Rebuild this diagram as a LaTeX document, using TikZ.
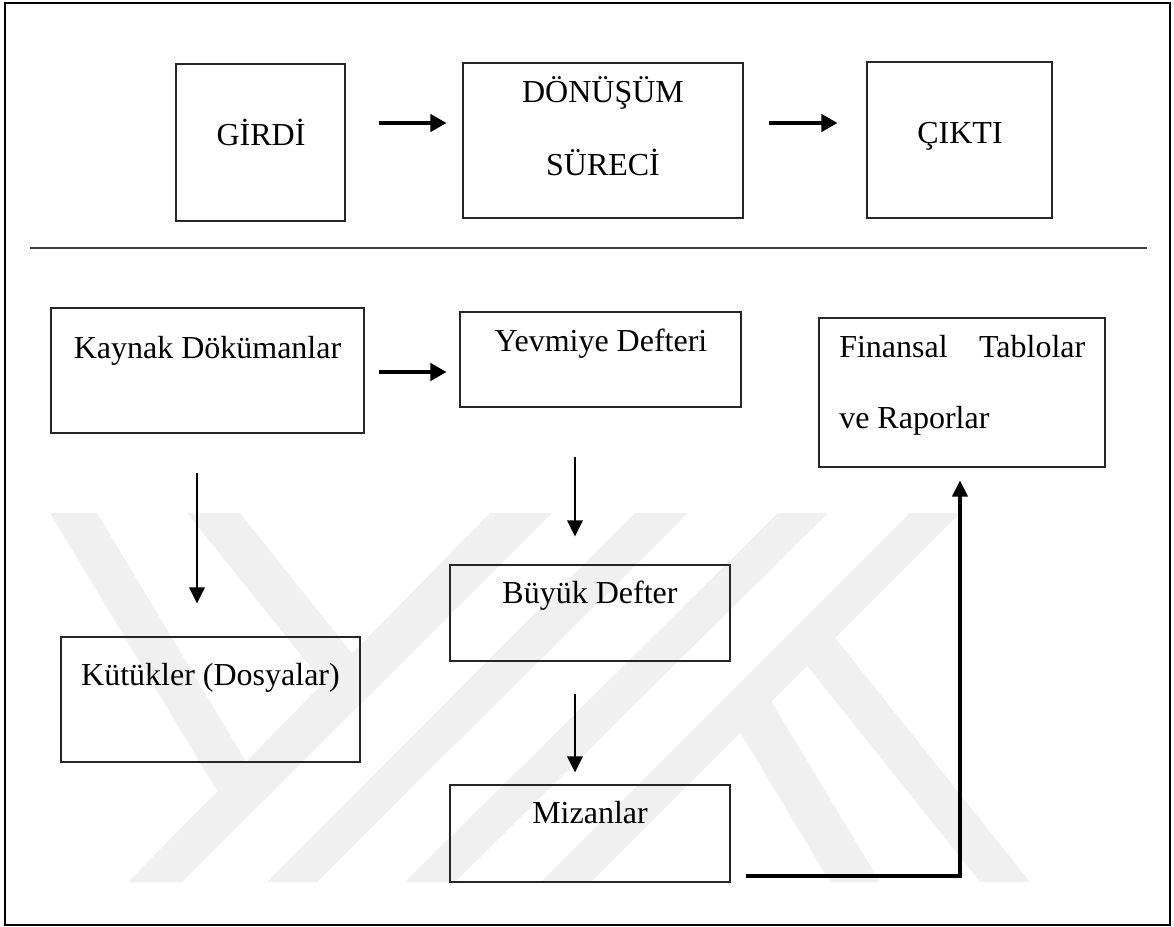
\documentclass[tikz,border=0pt]{standalone}
\usepackage{fontspec}
\setmainfont{Liberation Serif}
\usetikzlibrary{arrows.meta,fit}

\begin{document}
\begin{tikzpicture}[x=0.75pt,y=-0.75pt,
  box/.style={draw=black!85,line width=0.8pt,inner sep=0pt},
  frame/.style={draw=black,line width=2.2pt,inner sep=0pt},
  lbl/.style={anchor=base,inner sep=0pt,font=\fontsize{24}{29}\selectfont},
  lblw/.style={anchor=base west,inner sep=0pt,font=\fontsize{24}{29}\selectfont},
  flow/.style={line width=2.3pt,-{Triangle[length=12pt,width=13pt]}},
  drop/.style={line width=1.5pt,-{Triangle[length=12pt,width=11.5pt]}},
  link/.style={line width=2.3pt,-{Triangle[length=12pt,width=11.5pt]}},
  band/.style={fill=black!6,draw=none}
]
\useasboundingbox (0,0) rectangle (1174,927);

% background emblem made of light stripes
\begin{scope}
  \clip (6,513) rectangle (1170,882);
  % rising stripes
  \fill[band] (128,882) -- (182,882) -- (552,513) -- (490,513) -- cycle;
  \fill[band] (267,882) -- (317,882) -- (688,513) -- (635,513) -- cycle;
  \fill[band] (405,882) -- (455,882) -- (828,513) -- (778,513) -- cycle;
  \fill[band] (541,882) -- (591,882) -- (960,513) -- (910,513) -- cycle;
  % falling stripes joining the first rising stripe
  \fill[band] (187,513) -- (240,513) -- (366,671) -- (337,700) -- cycle;
  \fill[band] (50,513) -- (97,513) -- (257,780) -- (228,809) -- cycle;
  % falling stripes leaving the last rising stripe
  \fill[band] (830,882) -- (880,882) -- (762,686) -- (731,717) -- cycle;
  \fill[band] (980,882) -- (1030,882) -- (824,624) -- (796,652) -- cycle;
\end{scope}

% outer frame and separator
\node[frame, fit={(5,3) (1170,925)}] (frame) {};
\draw[black!75,line width=0.8pt] (30,248) -- (1147,248);

% upper row: input, transformation, output
\node[box, fit={(176,64) (345,221)}] (girdi) {};
\node[box, fit={(463,63) (743,218)}] (donusum) {};
\node[box, fit={(867,62) (1052,218)}] (cikti) {};

\node[lbl] (girdi-t) at (261,146) {GİRDİ};
\node[lbl] (donusum-t1) at (603,103) {DÖNÜŞÜM};
\node[lbl] (donusum-t2) at (603,176) {SÜRECİ};
\node[lbl] (cikti-t) at (960,144) {ÇIKTI};

\draw[flow] ([shift={(33,-19.5)}]girdi.east) -- ([shift={(-16,-17.5)}]donusum.west);
\draw[flow] ([shift={(25,-17.5)}]donusum.east) -- ([shift={(-29,-17)}]cikti.west);

% lower part: accounting cycle
\node[box, fit={(51,308) (364,433)}] (kaynak) {};
\node[box, fit={(460,312) (741,407)}] (yevmiye) {};
\node[box, fit={(819,318) (1105,467)}] (finansal) {};
\node[box, fit={(450,565) (730,661)}] (buyuk) {};
\node[box, fit={(61,637) (360,762)}] (kutuk) {};
\node[box, fit={(450,785) (730,882)}] (mizan) {};

\node[lbl] (kaynak-t) at (207.5,358) {Kaynak Dökümanlar};
\node[lbl] (yevmiye-t) at (601,351) {Yevmiye Defteri};
\node[lblw] (finansal-t1) at (839,357) {\makebox[184.5pt][s]{Finansal\hfill Tablolar}};
\node[lblw] (finansal-t2) at (839,428) {ve Raporlar};
\node[lbl] (buyuk-t) at (590,603) {Büyük Defter};
\node[lbl] (kutuk-t) at (210.5,685) {Kütükler (Dosyalar)};
\node[lbl] (mizan-t) at (590,823) {Mizanlar};

\draw[flow] ([shift={(14,1.5)}]kaynak.east) -- ([shift={(-13,12.5)}]yevmiye.west);
\draw[drop] ([shift={(-10.5,39)}]kaynak.south) -- ([shift={(-13.5,-33)}]kutuk.north);
\draw[drop] ([shift={(-25.5,49)}]yevmiye.south) -- ([shift={(-15,-28)}]buyuk.north);
\draw[drop] ([shift={(-15,32)}]buyuk.south) -- ([shift={(-15,-12)}]mizan.north);
\draw[link] ([shift={(15,42.5)}]mizan.east) -| ([shift={(-2,13)}]finansal.south);
\end{tikzpicture}
\end{document}
